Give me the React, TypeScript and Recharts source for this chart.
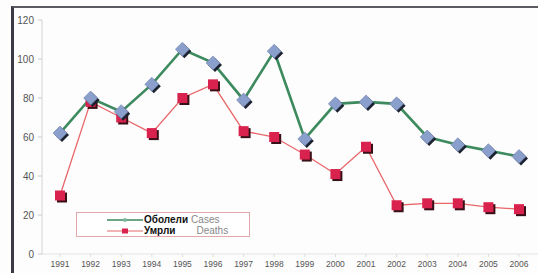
import { Line, LineChart, XAxis, YAxis } from "recharts";

const years = [
  "1991", "1992", "1993", "1994", "1995", "1996", "1997", "1998",
  "1999", "2000", "2001", "2002", "2003", "2004", "2005", "2006",
];
const cases = [62, 80, 73, 87, 105, 98, 79, 104, 59, 77, 78, 77, 60, 56, 53, 50];
const deaths = [30, 78, 70, 62, 80, 87, 63, 60, 51, 41, 55, 25, 26, 26, 24, 23];
const yTicks = [0, 20, 40, 60, 80, 100, 120];

const data = years.map((year, i) => ({ year, cases: cases[i], deaths: deaths[i] }));

const GREEN = "#3d8a5e";
const RED = "#e8666a";
const FONT = "Arial, 'Liberation Sans', sans-serif";

function Diamond(props: any) {
  const { cx, cy, index } = props;
  if (cx == null || cy == null) return null;
  const r = 7;
  const pts = (dx: number, dy: number) =>
    `${cx + dx},${cy - r + dy} ${cx + r + dx},${cy + dy} ${cx + dx},${cy + r + dy} ${cx - r + dx},${cy + dy}`;
  return (
    <g key={`d-${index}`}>
      <polygon points={pts(2, 2)} fill="#1c2230" />
      <polygon points={pts(0, 0)} fill="#8b9fcc" stroke="#6f82ad" strokeWidth={0.6} />
    </g>
  );
}

function Square(props: any) {
  const { cx, cy, index } = props;
  if (cx == null || cy == null) return null;
  const s = 5;
  return (
    <g key={`s-${index}`}>
      <rect x={cx - s + 2} y={cy - s + 2} width={s * 2} height={s * 2} fill="#3a1018" />
      <rect x={cx - s} y={cy - s} width={s * 2} height={s * 2} fill="#d9234e" />
    </g>
  );
}

function LegendBox() {
  return (
    <div
      style={{
        position: "absolute",
        left: 76,
        top: 212,
        width: 174,
        height: 25,
        border: "1px solid #e0a8a8",
        background: "#ffffff",
        fontFamily: FONT,
        fontSize: 10,
        lineHeight: "11px",
        padding: "1px 0 0 30px",
        boxSizing: "border-box",
      }}
    >
      <div style={{ display: "flex", alignItems: "center" }}>
        <svg width={36} height={8}>
          <line x1={0} y1={4} x2={36} y2={4} stroke={GREEN} strokeWidth={1.5} />
          <circle cx={18} cy={4} r={2} fill="#7fb6a0" />
        </svg>
        <span style={{ color: "#111", fontWeight: 700, marginLeft: 1 }}>Оболели</span>
        <span style={{ color: "#888", marginLeft: 3 }}>Cases</span>
      </div>
      <div style={{ display: "flex", alignItems: "center" }}>
        <svg width={36} height={8}>
          <line x1={0} y1={4} x2={36} y2={4} stroke={RED} strokeWidth={1.2} />
          <rect x={15} y={1.5} width={6} height={5} fill="#d9234e" />
        </svg>
        <span style={{ color: "#111", fontWeight: 700, marginLeft: 1 }}>Умрли</span>
        <span style={{ color: "#888", marginLeft: 21 }}>Deaths</span>
      </div>
    </div>
  );
}

export default function App() {
  return (
    <div
      style={{
        position: "fixed",
        left: 0,
        top: 0,
        width: 538,
        height: 273,
        background: "#fdfdfd",
        overflow: "hidden",
      }}
    >
      <div
        style={{
          position: "absolute",
          left: 11,
          top: 6,
          width: 540,
          height: 280,
          borderLeft: "3px solid #3a3a44",
          borderTop: "2px solid #5a5a62",
        }}
      />
      <LineChart
        width={538}
        height={273}
        data={data}
        margin={{ top: 20, right: 0, bottom: 0, left: 0 }}
        style={{ position: "absolute", left: 0, top: 0 }}
      >
        <XAxis
          dataKey="year"
          height={19}
          padding={{ left: 18, right: 19 }}
          tick={{ fill: "#555", fontSize: 8.5, fontFamily: FONT }}
          tickLine={{ stroke: "#ddd" }}
          tickSize={3}
          tickMargin={4}
          axisLine={{ stroke: "#e4e4e4" }}
          interval={0}
        />
        <YAxis
          width={42}
          domain={[0, 120]}
          ticks={yTicks}
          tick={{ fill: "#555", fontSize: 10, fontFamily: FONT }}
          tickLine={{ stroke: "#ccc" }}
          tickSize={4}
          tickMargin={4}
          axisLine={{ stroke: "#d4d4d4" }}
        />
        <Line
          dataKey="deaths"
          stroke={RED}
          strokeWidth={1.3}
          dot={<Square />}
          isAnimationActive={false}
        />
        <Line
          dataKey="cases"
          stroke={GREEN}
          strokeWidth={2.6}
          dot={<Diamond />}
          isAnimationActive={false}
        />
      </LineChart>
      <LegendBox />
    </div>
  );
}
